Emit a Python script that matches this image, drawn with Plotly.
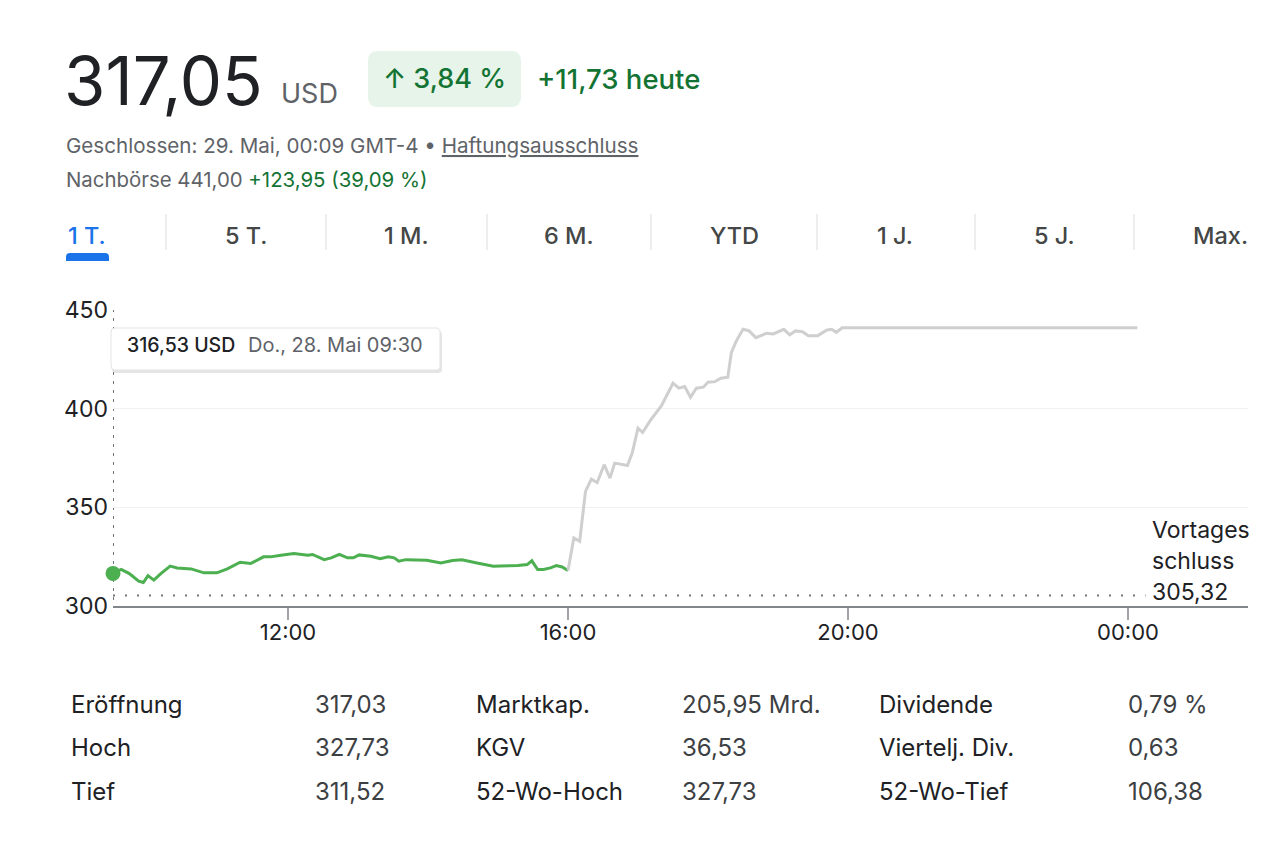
import plotly.graph_objects as go

# ---------------- data ----------------
session_times = ["2026-05-28 09:30", "2026-05-28 09:37", "2026-05-28 09:44", "2026-05-28 09:52",
                 "2026-05-28 09:56", "2026-05-28 10:00", "2026-05-28 10:05", "2026-05-28 10:11",
                 "2026-05-28 10:19", "2026-05-28 10:25", "2026-05-28 10:37", "2026-05-28 10:48",
                 "2026-05-28 10:59", "2026-05-28 11:08", "2026-05-28 11:19", "2026-05-28 11:28",
                 "2026-05-28 11:39", "2026-05-28 11:45", "2026-05-28 11:54", "2026-05-28 12:05",
                 "2026-05-28 12:17", "2026-05-28 12:21", "2026-05-28 12:31", "2026-05-28 12:37",
                 "2026-05-28 12:44", "2026-05-28 12:51", "2026-05-28 12:56", "2026-05-28 13:01",
                 "2026-05-28 13:11", "2026-05-28 13:19", "2026-05-28 13:26", "2026-05-28 13:31",
                 "2026-05-28 13:35", "2026-05-28 13:41", "2026-05-28 13:59", "2026-05-28 14:11",
                 "2026-05-28 14:21", "2026-05-28 14:29", "2026-05-28 14:42", "2026-05-28 14:56",
                 "2026-05-28 15:02", "2026-05-28 15:17", "2026-05-28 15:25", "2026-05-28 15:29",
                 "2026-05-28 15:34", "2026-05-28 15:39", "2026-05-28 15:45", "2026-05-28 15:50",
                 "2026-05-28 15:55", "2026-05-28 16:00"]
session_prices = [316.53, 318.5, 316.4, 312.6, 311.9, 315.4, 313.1, 316.4,
                  320.2, 319.3, 318.8, 316.8, 316.8, 318.8, 322.2, 321.5,
                  324.9, 324.9, 325.7, 326.6, 325.7, 326.1, 323.5, 324.4,
                  326.2, 324.4, 324.4, 325.9, 325.2, 324.0, 325.0, 324.4,
                  322.7, 323.5, 323.2, 321.8, 323.0, 323.4, 321.8, 320.2,
                  320.3, 320.5, 321.0, 322.9, 318.5, 318.5, 319.3, 320.5,
                  319.8, 318.0]

post_times = ["2026-05-28 16:00", "2026-05-28 16:05", "2026-05-28 16:10", "2026-05-28 16:15",
              "2026-05-28 16:20", "2026-05-28 16:25", "2026-05-28 16:31", "2026-05-28 16:36",
              "2026-05-28 16:40", "2026-05-28 16:51", "2026-05-28 16:55", "2026-05-28 17:00",
              "2026-05-28 17:04", "2026-05-28 17:11", "2026-05-28 17:20", "2026-05-28 17:30",
              "2026-05-28 17:35", "2026-05-28 17:40", "2026-05-28 17:45", "2026-05-28 17:50",
              "2026-05-28 17:56", "2026-05-28 18:00", "2026-05-28 18:06", "2026-05-28 18:11",
              "2026-05-28 18:17", "2026-05-28 18:20", "2026-05-28 18:24", "2026-05-28 18:30",
              "2026-05-28 18:35", "2026-05-28 18:41", "2026-05-28 18:50", "2026-05-28 18:56",
              "2026-05-28 19:05", "2026-05-28 19:10", "2026-05-28 19:15", "2026-05-28 19:21",
              "2026-05-28 19:26", "2026-05-28 19:34", "2026-05-28 19:42", "2026-05-28 19:46",
              "2026-05-28 19:50", "2026-05-28 19:55", "2026-05-29 00:08"]
post_prices = [318.0, 334.5, 332.8, 358.1, 364.3, 362.6, 371.6, 364.8,
               372.4, 371.2, 377.5, 390.1, 387.9, 394.4, 401.4, 412.9,
               410.4, 411.2, 405.8, 410.4, 410.9, 413.4, 413.7, 415.4,
               415.9, 428.4, 434.0, 440.2, 439.5, 436.0, 438.2, 437.9,
               440.2, 437.4, 439.4, 439.0, 437.0, 437.0, 439.9, 440.2,
               438.7, 441.0, 441.0]

prev_close = 305.32
hover_time = "2026-05-28 09:30"
hover_price = 316.53

x_tick_vals = ["2026-05-28 12:00", "2026-05-28 16:00", "2026-05-28 20:00", "2026-05-29 00:00"]
x_tick_text = ["12:00", "16:00", "20:00", "00:00"]
y_tick_vals = [300, 350, 400, 450]
y_tick_text = ["300", "350", "400", "450"]

tabs = ["1 T.", "5 T.", "1 M.", "6 M.", "YTD", "1 J.", "5 J.", "Max."]

stats_labels_1 = ["Eröffnung", "Hoch", "Tief"]
stats_values_1 = ["317,03", "327,73", "311,52"]
stats_labels_2 = ["Marktkap.", "KGV", "52-Wo-Hoch"]
stats_values_2 = ["205,95 Mrd.", "36,53", "327,73"]
stats_labels_3 = ["Dividende", "Viertelj. Div.", "52-Wo-Tief"]
stats_values_3 = ["0,79 %", "0,63", "106,38"]

# ---------------- layout helpers ----------------
W, H = 1280, 850
L, R, T, B = 113, 1248, 310, 606
FONT = "Inter"
DARK = "#202124"
GRAY = "#5f6368"
GREEN_TXT = "#137333"
LINE_GREEN = "#4caf50"
AXIS = "#80868b"


def px(x):
    return (x - L) / (R - L)


def py(y):
    return (B - y) / (B - T)


def rrect(x0, y0, x1, y1, r, top_only=False):
    def P(x, y):
        return f"{px(x):.5f},{py(y):.5f}"
    rb = 0 if top_only else r
    s = f"M {P(x0 + r, y0)} L {P(x1 - r, y0)} Q {P(x1, y0)} {P(x1, y0 + r)} "
    s += f"L {P(x1, y1 - rb)} Q {P(x1, y1)} {P(x1 - rb, y1)} "
    s += f"L {P(x0 + rb, y1)} Q {P(x0, y1)} {P(x0, y1 - rb)} "
    s += f"L {P(x0, y0 + r)} Q {P(x0, y0)} {P(x0 + r, y0)} Z"
    return s


annotations = []
shapes = []


def text(x, y, s, size, color=DARK, anchor="left", weight=None):
    f = dict(family=FONT, size=size, color=color)
    if weight:
        f["weight"] = weight
    annotations.append(dict(x=px(x), y=py(y), xref="paper", yref="paper", text=s,
                            showarrow=False, xanchor=anchor, yanchor="middle", font=f))


fig = go.Figure()

fig.add_trace(go.Scatter(x=session_times, y=session_prices, mode="lines",
                         line=dict(color=LINE_GREEN, width=3), hoverinfo="skip"))
fig.add_trace(go.Scatter(x=post_times, y=post_prices, mode="lines",
                         line=dict(color="#cfcfcf", width=3), hoverinfo="skip"))
fig.add_trace(go.Scatter(x=[hover_time], y=[hover_price], mode="markers", cliponaxis=False,
                         marker=dict(color=LINE_GREEN, size=15), hoverinfo="skip"))

# previous close dotted line
shapes.append(dict(type="line", xref="x", yref="y", x0="2026-05-28 09:30", x1="2026-05-29 00:15",
                   y0=prev_close, y1=prev_close, line=dict(color="#70757a", width=2, dash="2px,10px"),
                   layer="below"))
# crosshair
shapes.append(dict(type="line", xref="x", yref="paper", x0=hover_time, x1=hover_time,
                   y0=py(600), y1=1, line=dict(color="#70757a", width=2, dash="3px,6px"),
                   layer="below"))
# x ticks (drawn longer than the label offset)
for tv in x_tick_vals:
    shapes.append(dict(type="line", xref="x", yref="paper", x0=tv, x1=tv, y0=0, y1=py(620),
                       line=dict(color=AXIS, width=1.5)))

# tooltip
shapes.append(dict(type="path", xref="paper", yref="paper", path=rrect(112, 331, 442, 373, 4),
                   fillcolor="rgba(0,0,0,0.10)", line=dict(width=0), layer="above"))
shapes.append(dict(type="path", xref="paper", yref="paper", path=rrect(111, 328, 440, 370, 4),
                   fillcolor="white", line=dict(color="#e3e3e3", width=1), layer="above"))
text(125, 345, "316,53 USD", 19.5, DARK, weight=500)
text(246, 345, "Do., 28. Mai 09:30", 20, GRAY)

# right label
text(1150, 530, "Vortages", 23, DARK)
text(1150, 561, "schluss", 23, DARK)
text(1150, 592, "305,32", 23, DARK)

# header
text(62, 80, "317,05", 67, DARK)
text(279, 94, "USD", 27, GRAY)
shapes.append(dict(type="path", xref="paper", yref="paper", path=rrect(368, 51, 521, 107, 10),
                   fillcolor="#e6f4ea", line=dict(width=0), layer="above"))
text(444.5, 79, "↑ 3,84 %", 27, GREEN_TXT, anchor="center", weight=500)
text(535, 79, "+11,73 heute", 27.5, GREEN_TXT, weight=500)
text(64, 145, "Geschlossen: 29. Mai, 00:09 GMT-4 • <u>Haftungsausschluss</u>", 20.6, GRAY)
text(64, 180, f"Nachbörse 441,00 <span style='color:{GREEN_TXT}'>+123,95 (39,09 %)</span>", 20.4, GRAY)

# tabs
tab_centers = [87, 246, 406, 569, 734, 895, 1054, 1220]
for name, cx in zip(tabs, tab_centers):
    col = "#1a73e8" if name == "1 T." else "#444746"
    text(cx, 235, name, 23.5, col, anchor="center", weight=500)
for sx in [166, 326, 487, 651, 817, 975, 1134]:
    shapes.append(dict(type="line", xref="paper", yref="paper", x0=px(sx), x1=px(sx),
                       y0=py(214), y1=py(250), line=dict(color="#dadce0", width=1)))
shapes.append(dict(type="path", xref="paper", yref="paper", path=rrect(66, 253, 109, 261, 4, top_only=True),
                   fillcolor="#1a73e8", line=dict(width=0), layer="above"))

# stats
rows_y = [704, 747, 791]
for labels, values, lx, vx in [(stats_labels_1, stats_values_1, 69, 313),
                               (stats_labels_2, stats_values_2, 474, 680),
                               (stats_labels_3, stats_values_3, 877, 1126)]:
    for lab, val, yy in zip(labels, values, rows_y):
        text(lx, yy, lab, 24, DARK)
        text(vx, yy, val, 24, "#3c4043")

fig.update_layout(
    width=W, height=H,
    margin=dict(l=L, r=W - R, t=T, b=H - B, pad=0),
    paper_bgcolor="white", plot_bgcolor="white",
    showlegend=False,
    font=dict(family=FONT, color=DARK),
    annotations=annotations,
    shapes=shapes,
    xaxis=dict(type="date", range=["2026-05-28 09:30", "2026-05-29 01:42:51"],
               tickvals=x_tick_vals, ticktext=x_tick_text, tickfont=dict(size=22, color=DARK),
               showgrid=False, zeroline=False, showline=True, linecolor=AXIS, linewidth=1.5,
               ticks="outside", ticklen=6, tickcolor="rgba(0,0,0,0)", fixedrange=True),
    yaxis=dict(range=[300, 450], tickvals=y_tick_vals, ticktext=y_tick_text,
               tickfont=dict(size=23, color=DARK), showgrid=True, gridcolor="#f1f1f1", gridwidth=1,
               zeroline=False, showline=False, ticks="", ticklabelstandoff=4, fixedrange=True),
    hovermode=False,
)

fig.write_html("out.html", config={"displayModeBar": False})
